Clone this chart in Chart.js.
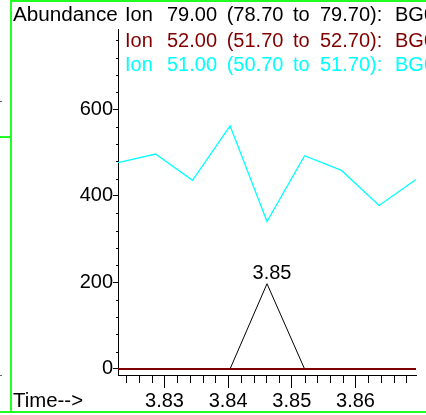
<!DOCTYPE html>
<html>
<head>
<meta charset="utf-8">
<script src="https://cdn.jsdelivr.net/npm/chart.js@4"></script>
<style>
  body { margin: 0; background: #fff; }
  canvas { display: block; }
</style>
</head>
<body>
<canvas id="tic" width="426" height="415"></canvas>
<script>
// scan times (min) and abundances
const times = [3.8227, 3.8286, 3.8344, 3.8403, 3.8461, 3.8520, 3.8578, 3.8637, 3.8695];
const ion79 = [0, 0, 0, 0, 197, 0, 0, 0, 0];
const ion52 = [0, 0, 0, 0, 0, 0, 0, 0, 0];
const ion51 = [477, 497, 436, 562, 341, 493, 459, 378, 438];

const xTicks = [3.83, 3.84, 3.85, 3.86];
const yTicks = [0, 200, 400, 600];

const ionMass = ["79.00", "52.00", "51.00"];
const ionLow = ["(78.70", "(51.70", "(50.70"];
const ionHigh = ["79.70):", "52.70):", "51.70):"];
const ionColors = ["#000000", "#800000", "#00ffff"];

const FONT = "'Liberation Sans', Arial, sans-serif";
Chart.defaults.font.family = FONT;
Chart.defaults.color = "#000";

function stretchText(ctx, text, x, y, sx) {
  ctx.save();
  ctx.translate(x, y);
  ctx.scale(sx, 1);
  ctx.fillText(text, 0, 0);
  ctx.restore();
}

const frame = {
  id: "frame",
  beforeDraw(chart) {
    const ctx = chart.ctx;
    ctx.save();
    ctx.fillStyle = "#fff";
    ctx.fillRect(0, 0, chart.width, chart.height);
    ctx.fillStyle = "#22ff22";
    ctx.fillRect(10, 0, 2, 413);
    ctx.fillRect(10, 0, 416, 2);
    ctx.fillRect(0, 411, 426, 2);
    ctx.fillRect(0, 136, 10, 2);
    ctx.fillStyle = "#666";
    ctx.fillRect(0, 101, 2, 1);
    ctx.fillRect(0, 375, 2, 1);
    ctx.restore();
  },
};

const minorTicks = {
  id: "minorTicks",
  afterDraw(chart) {
    const { ctx, scales: { x, y }, chartArea } = chart;
    ctx.save();
    ctx.strokeStyle = "#000";
    ctx.lineWidth = 1;
    ctx.beginPath();
    for (let i = 0; i <= 22; i++) {
      const v = 3.824 + i * 0.002;
      if (Math.abs(v * 100 - Math.round(v * 100)) < 1e-6) continue;
      const px = Math.round(x.getPixelForValue(v)) + 0.5;
      ctx.moveTo(px, chartArea.bottom);
      ctx.lineTo(px, chartArea.bottom + 8);
    }
    for (let v = 40; v <= 760; v += 40) {
      if (v % 200 === 0) continue;
      const py = Math.round(y.getPixelForValue(v)) + 0.5;
      ctx.moveTo(chartArea.left, py);
      ctx.lineTo(chartArea.left - 2, py);
    }
    ctx.stroke();
    ctx.restore();
  },
};

const header = {
  id: "header",
  afterDraw(chart) {
    const { ctx, scales: { x, y } } = chart;
    ctx.save();
    ctx.font = "20px " + FONT;
    ctx.textBaseline = "alphabetic";
    ctx.textAlign = "left";
    ctx.fillStyle = "#000";
    stretchText(ctx, "Abundance", 13, 20.5, 1.035);
    stretchText(ctx, "Time-->", 13, 406.5, 1.02);

    const base = [20.5, 46.5, 70.5];
    ionMass.forEach((m, i) => {
      ctx.fillStyle = ionColors[i];
      ctx.fillText("Ion", 125, base[i]);
      ctx.fillText(m, 167, base[i]);
      ctx.fillText(ionLow[i], 226.7, base[i]);
      ctx.fillText("to", 293, base[i]);
      ctx.fillText(ionHigh[i], 320, base[i]);
      ctx.fillText("BG0", 395, base[i]);
    });

    // retention time over the ion 79 peak
    let k = 0;
    ion79.forEach((v, i) => { if (v > ion79[k]) k = i; });
    const px = x.getPixelForValue(times[k]);
    const py = y.getPixelForValue(ion79[k]);
    ctx.fillStyle = "#000";
    ctx.textAlign = "center";
    ctx.fillText(times[k].toFixed(2), px + 5, py - 5);
    ctx.restore();
  },
};

const toPoints = (vals) => vals.map((v, i) => ({ x: times[i], y: v }));

new Chart(document.getElementById("tic"), {
  type: "line",
  data: {
    datasets: [
      { label: "Ion 79", data: toPoints(ion79), borderColor: ionColors[0], borderWidth: 1, order: 1 },
      { label: "Ion 52", data: toPoints(ion52), borderColor: ionColors[1], borderWidth: 2, order: 0 },
      { label: "Ion 51", data: toPoints(ion51), borderColor: ionColors[2], borderWidth: 1.3, order: 2 },
    ],
  },
  options: {
    responsive: false,
    animation: false,
    layout: { padding: { top: 29, right: 10, bottom: 0, left: 0 } },
    elements: { point: { radius: 0 }, line: { tension: 0 } },
    plugins: { legend: { display: false }, tooltip: { enabled: false } },
    scales: {
      x: {
        type: "linear",
        min: times[0],
        max: times[times.length - 1],
        afterBuildTicks: (s) => { s.ticks = xTicks.map((v) => ({ value: v })); },
        afterFit: (s) => { s.height = 40; },
        ticks: {
          font: { size: 20 },
          color: "#000",
          padding: 1,
          maxRotation: 0,
          callback: (v) => v.toFixed(2),
        },
        grid: { drawOnChartArea: false, tickLength: 13, tickColor: "#000" },
        border: { color: "#000", width: 1 },
      },
      y: {
        min: -14,
        max: 786,
        afterBuildTicks: (s) => { s.ticks = yTicks.map((v) => ({ value: v })); },
        afterFit: (s) => { s.width = 118; },
        ticks: { font: { size: 20 }, color: "#000", padding: 0 },
        grid: { drawOnChartArea: false, tickLength: 5, tickColor: "#000" },
        border: { color: "#000", width: 1 },
      },
    },
  },
  plugins: [frame, minorTicks, header],
});
</script>
</body>
</html>
